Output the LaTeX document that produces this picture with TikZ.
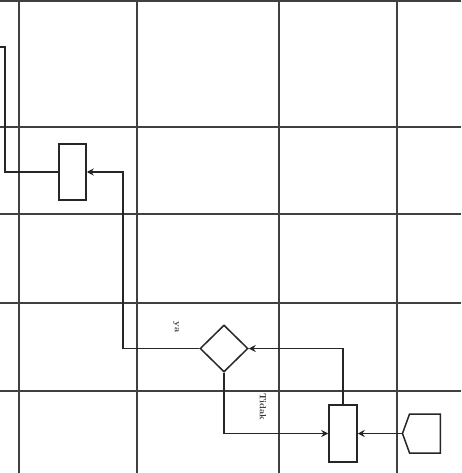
\documentclass[tikz,border=0pt]{standalone}
\usetikzlibrary{shapes.geometric,shapes.symbols,arrows.meta}
\begin{document}
\begin{tikzpicture}[x=1pt,y=-1pt,
  gridline/.style={draw=black!75,line width=1.5pt},
  conn/.style={draw=black!85,line width=1.6pt},
  tip/.style={-{Stealth[length=7pt,width=7pt]}},
  procbox/.style={draw=black!85,line width=1.5pt,rectangle,inner sep=0pt,fill=white},
  decbox/.style={draw=black!85,line width=1.5pt,diamond,inner sep=0pt,aspect=1,fill=white},
  offpage/.style={draw=black!85,line width=1.5pt,signal,signal to=west,signal from=nowhere,signal pointer angle=140,inner sep=0pt,fill=white},
  lbl/.style={font=\small\bfseries,text=black!80,rotate=-90,inner sep=0pt}
]
\useasboundingbox (0,0) rectangle (461,473);
% grid
\foreach \x in {19,137,279,397} \draw[gridline] (\x,0) -- (\x,473);
\foreach \y in {1,127,214,303,391} \draw[gridline] (0,\y) -- (461,\y);
% nodes
\node[procbox,minimum width=27pt,minimum height=56pt] (r1) at (72.5,172) {};
\node[decbox,minimum width=48pt,minimum height=47pt] (d) at (224,348.5) {};
\node[procbox,minimum width=28pt,minimum height=57pt] (r2) at (343,433.5) {};
\node[offpage,minimum width=38pt,minimum height=39pt] (p) at (425,433.5) {};
\coordinate (in0) at (0,47);
\coordinate (bend) at (5,47);
% connectors
\draw[conn] (in0) -- (bend) |- (r1.west);
\draw[conn,tip] (d.west) -- +(-76,0) |- (r1.east);
\draw[conn,tip] (d.south) |- (r2.west);
\draw[conn,tip] (r2.north) |- (d.east);
\draw[conn,tip] (p.west) -- (r2.east);
% labels
\node[lbl] (lya) at (176,327) {ya};
\node[lbl] (ltidak) at (263,407) {Tidak};
\end{tikzpicture}
\end{document}
